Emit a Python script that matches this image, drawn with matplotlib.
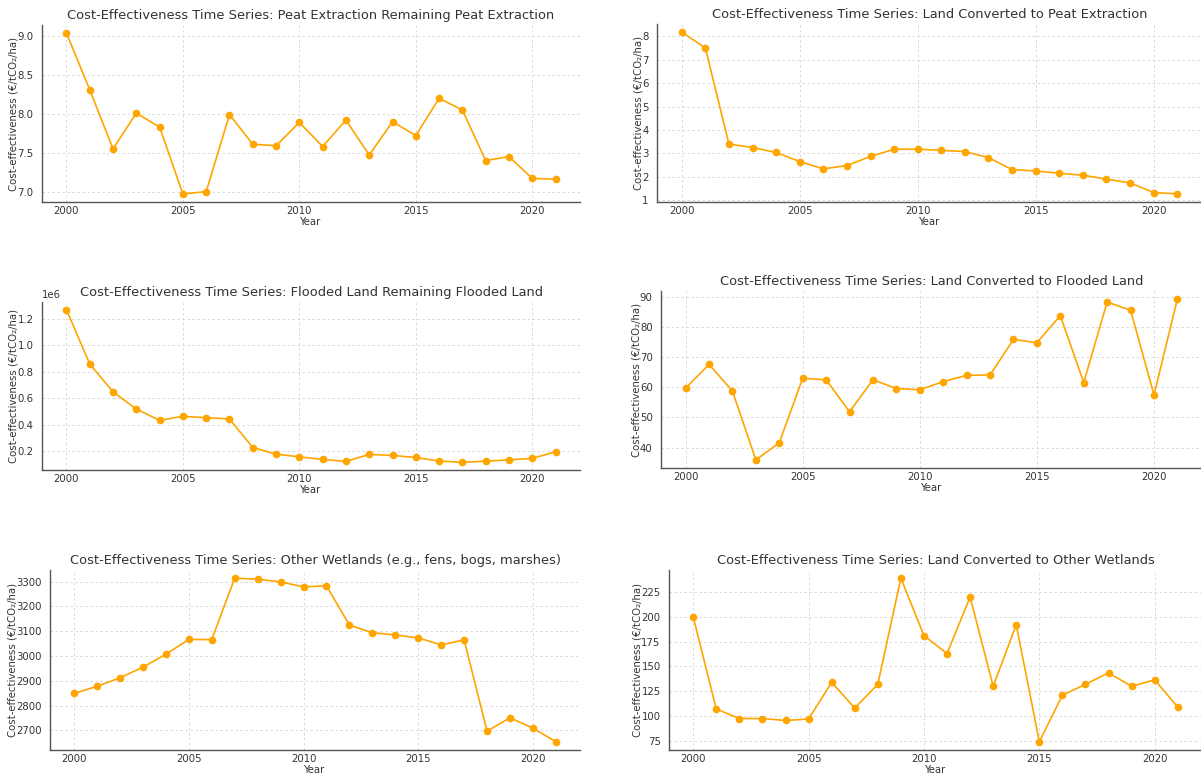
import matplotlib.pyplot as plt

years = list(range(2000, 2022))

peat_remaining = [9.04, 8.31, 7.55, 8.01, 7.83, 6.97, 7.00, 7.99, 7.61, 7.59, 7.89,
                  7.58, 7.92, 7.47, 7.90, 7.72, 8.20, 8.05, 7.40, 7.45, 7.17, 7.16]
land_to_peat = [8.18, 7.50, 3.40, 3.25, 3.04, 2.65, 2.34, 2.48, 2.87, 3.18, 3.18,
                3.13, 3.08, 2.82, 2.31, 2.25, 2.15, 2.07, 1.90, 1.74, 1.33, 1.27]
flooded_remaining = [1270000, 860000, 650000, 520000, 435000, 465000, 455000, 445000,
                     230000, 180000, 160000, 140000, 125000, 178000, 170000, 155000,
                     128000, 118000, 127000, 137000, 148000, 198000]
land_to_flooded = [59.7, 67.6, 58.8, 35.9, 41.6, 63.0, 62.5, 51.9, 62.5, 59.6, 59.2,
                   61.9, 64.0, 64.1, 75.9, 74.8, 83.8, 61.6, 88.3, 85.6, 57.5, 89.3]
other_wetlands = [2849, 2878, 2912, 2955, 3007, 3067, 3066, 3314, 3310, 3299, 3279,
                  3283, 3125, 3094, 3085, 3073, 3045, 3065, 2697, 2751, 2709, 2654]
land_to_other = [200, 107, 97.5, 97.5, 95.5, 97, 134, 108, 132, 239, 181,
                 163, 220, 130, 192, 74, 121, 132, 143.5, 130, 136.5, 109]

titles = [
    "Peat Extraction Remaining Peat Extraction",
    "Land Converted to Peat Extraction",
    "Flooded Land Remaining Flooded Land",
    "Land Converted to Flooded Land",
    "Other Wetlands (e.g., fens, bogs, marshes)",
    "Land Converted to Other Wetlands",
]
series = [peat_remaining, land_to_peat, flooded_remaining,
          land_to_flooded, other_wetlands, land_to_other]

W, H = 1201, 776
# axes boxes in pixels: left, right, top, bottom
boxes = [
    (42, 580, 25, 202),
    (657, 1202, 24, 202),
    (42, 580, 302, 470),
    (661, 1202, 291, 468),
    (50, 580, 570, 750),
    (669, 1202, 570, 750),
]

plt.rcParams['font.family'] = 'DejaVu Sans'
text_col = '#333333'

fig = plt.figure(figsize=(W / 100, H / 100), dpi=100)
for (l, r, t, b), title, vals in zip(boxes, titles, series):
    ax = fig.add_axes([l / W, 1 - b / H, (r - l) / W, (b - t) / H])
    ax.plot(years, vals, color='orange', marker='o', markersize=4.5, linewidth=1.2)
    ax.set_title("Cost-Effectiveness Time Series: " + title, fontsize=9.4,
                 color=text_col, pad=4.3)
    ax.set_xlabel("Year", fontsize=7.3, color=text_col, labelpad=0.5)
    ax.set_ylabel("Cost-effectiveness (€/tCO₂/ha)", fontsize=7.3, color=text_col,
                  labelpad=-1)
    ax.set_xticks([2000, 2005, 2010, 2015, 2020])
    ax.tick_params(axis='both', length=0, labelsize=7.3, labelcolor=text_col)
    ax.tick_params(axis='x', pad=3)
    ax.tick_params(axis='y', pad=6)
    ax.yaxis.get_offset_text().set_fontsize(7.3)
    ax.yaxis.get_offset_text().set_color(text_col)
    ax.grid(True, linestyle=(0, (3, 3)), color='#d4d4d4', linewidth=0.6)
    ax.spines['top'].set_visible(False)
    ax.spines['right'].set_visible(False)
    for s in ('left', 'bottom'):
        ax.spines[s].set_color('#555555')
        ax.spines[s].set_linewidth(1.0)

fig.savefig('out.png', dpi=100)
